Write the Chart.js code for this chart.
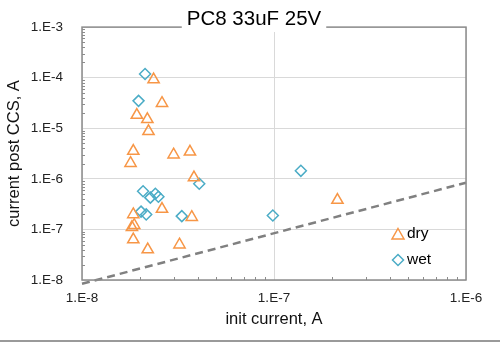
<!DOCTYPE html>
<html>
<head>
<meta charset="utf-8">
<script src="https://cdn.jsdelivr.net/npm/chart.js@4"></script>
<style>
  body { margin: 0; background: #fff; }
  #wrap { width: 500px; height: 342px; }
</style>
</head>
<body>
<div id="wrap"><canvas id="chart" width="500" height="342"></canvas></div>
<script>
// data
const dryX = [2.36e-8, 2.61e-8, 1.93e-8, 2.19e-8, 2.22e-8, 1.85e-8, 3.0e-8, 3.65e-8, 1.79e-8, 3.83e-8,
              2.61e-8, 3.73e-8, 1.85e-8, 1.82e-8, 1.87e-8, 1.85e-8, 2.2e-8, 3.22e-8, 2.14e-7];
const dryY = [9.2e-5, 3.13e-5, 1.82e-5, 1.5e-5, 8.7e-6, 3.54e-6, 3.0e-6, 3.43e-6, 2.04e-6, 1.06e-6,
              2.53e-7, 1.75e-7, 1.98e-7, 1.1e-7, 1.21e-7, 6.3e-8, 4.0e-8, 5.0e-8, 3.8e-7];
const wetX = [2.13e-8, 1.97e-8, 4.08e-8, 2.08e-8, 2.27e-8, 2.41e-8, 2.5e-8, 2.03e-8, 2.16e-8, 3.31e-8,
              1.38e-7, 9.86e-8];
const wetY = [1.18e-4, 3.48e-5, 7.98e-7, 5.7e-7, 4.25e-7, 5.06e-7, 4.43e-7, 2.25e-7, 1.98e-7, 1.83e-7,
              1.44e-6, 1.89e-7];
const refX = [1e-8, 1e-6];
const refY = [8.4e-9, 8.4e-7];

const xTicks = [1e-8, 1e-7, 1e-6];
const xTickLabels = ['1.E-8', '1.E-7', '1.E-6'];
const yTicks = [1e-8, 1e-7, 1e-6, 1e-5, 1e-4, 1e-3];
const yTickLabels = ['1.E-8', '1.E-7', '1.E-6', '1.E-5', '1.E-4', '1.E-3'];

const titleText = 'PC8 33uF 25V';
const seriesNames = ['dry', 'wet'];
const ORANGE = '#F79646';
const TEAL = '#4BACC6';
const FONT = '"Liberation Sans", Arial, sans-serif';

function pts(xs, ys) {
    return xs.map((x, i) => ({x: x, y: ys[i]}));
}

function keepMajor(list) {
    return function(scale) {
        scale.ticks = list.map(v => ({value: v}));
    };
}

function labelFor(values, labels) {
    return function(value) {
        const i = values.findIndex(v => Math.abs(Math.log10(v) - Math.log10(value)) < 1e-6);
        return i >= 0 ? labels[i] : '';
    };
}

// frame, minor ticks, title box and legend
const decor = {
    id: 'decor',
    afterDraw(chart) {
        const ctx = chart.ctx;
        const a = chart.chartArea;
        const xs = chart.scales.x, ys = chart.scales.y;
        ctx.save();

        // minor ticks, inside the plot
        ctx.strokeStyle = '#8c8c8c';
        ctx.lineWidth = 1;
        ctx.beginPath();
        for (let e = -8; e < -6; e++) {
            for (let m = 2; m <= 9; m++) {
                const px = Math.round(xs.getPixelForValue(m * Math.pow(10, e))) + 0.5;
                ctx.moveTo(px, a.bottom);
                ctx.lineTo(px, a.bottom - 3);
            }
        }
        for (let e = -8; e < -3; e++) {
            for (let m = 2; m <= 9; m++) {
                const py = Math.round(ys.getPixelForValue(m * Math.pow(10, e))) + 0.5;
                ctx.moveTo(a.left, py);
                ctx.lineTo(a.left + 3, py);
            }
        }
        ctx.stroke();

        // frame
        ctx.strokeStyle = '#8c8c8c';
        ctx.lineWidth = 1.5;
        ctx.strokeRect(a.left, a.top, a.right - a.left, a.bottom - a.top);

        // title over the top border
        ctx.font = '20.5px ' + FONT;
        const tw = ctx.measureText(titleText).width;
        const cx = 254;
        ctx.fillStyle = '#fff';
        ctx.fillRect(cx - tw / 2 - 5, 6, tw + 10, 26);
        ctx.fillStyle = '#000';
        ctx.textAlign = 'center';
        ctx.textBaseline = 'middle';
        ctx.fillText(titleText, cx, 19);

        // legend
        ctx.lineWidth = 1.5;
        ctx.strokeStyle = ORANGE;
        ctx.beginPath();
        ctx.moveTo(398, 228.5);
        ctx.lineTo(404, 239);
        ctx.lineTo(392, 239);
        ctx.closePath();
        ctx.stroke();
        ctx.strokeStyle = TEAL;
        ctx.beginPath();
        ctx.moveTo(398, 254.5);
        ctx.lineTo(403.5, 260);
        ctx.lineTo(398, 265.5);
        ctx.lineTo(392.5, 260);
        ctx.closePath();
        ctx.stroke();
        ctx.font = '15.5px ' + FONT;
        ctx.fillStyle = '#000';
        ctx.textAlign = 'left';
        ctx.fillText(seriesNames[0], 407, 234);
        ctx.fillText(seriesNames[1], 407, 260);

        // outer bottom edge
        ctx.fillStyle = '#9a9a9a';
        ctx.fillRect(0, 340, 500, 2);
        ctx.restore();
    }
};

new Chart(document.getElementById('chart'), {
    type: 'scatter',
    data: {
        datasets: [
            {
                label: seriesNames[0],
                data: pts(dryX, dryY),
                pointStyle: 'triangle',
                pointRadius: 6.5,
                borderColor: ORANGE,
                backgroundColor: 'rgba(0,0,0,0)',
                borderWidth: 1.5
            },
            {
                label: seriesNames[1],
                data: pts(wetX, wetY),
                pointStyle: 'rectRot',
                pointRadius: 5.5,
                borderColor: TEAL,
                backgroundColor: 'rgba(0,0,0,0)',
                borderWidth: 1.5
            },
            {
                type: 'line',
                label: 'ref',
                data: pts(refX, refY),
                borderColor: '#808080',
                borderWidth: 2.5,
                borderDash: [8, 5],
                pointRadius: 0,
                clip: false
            }
        ]
    },
    options: {
        responsive: false,
        animation: false,
        layout: { padding: { top: 19, right: 34, left: 0, bottom: 0 } },
        plugins: {
            legend: { display: false },
            tooltip: { enabled: false }
        },
        scales: {
            x: {
                type: 'logarithmic',
                min: 1e-8,
                max: 1e-6,
                afterBuildTicks: keepMajor(xTicks),
                afterFit: s => { s.height = 62; },
                border: { display: false },
                grid: { color: '#d9d9d9', lineWidth: 1, drawTicks: false },
                ticks: {
                    padding: 10,
                    color: '#222',
                    font: { family: FONT, size: 13.5 },
                    maxRotation: 0,
                    autoSkip: false,
                    callback: labelFor(xTicks, xTickLabels)
                },
                title: {
                    display: true,
                    text: 'init current, A',
                    color: '#111',
                    font: { family: FONT, size: 16.5 },
                    padding: { top: 0, bottom: 13 }
                }
            },
            y: {
                type: 'logarithmic',
                min: 1e-8,
                max: 1e-3,
                afterBuildTicks: keepMajor(yTicks),
                afterFit: s => { s.width = 82; },
                border: { display: false },
                grid: { color: '#d9d9d9', lineWidth: 1, drawTicks: false },
                ticks: {
                    padding: 19,
                    color: '#222',
                    font: { family: FONT, size: 13.5 },
                    autoSkip: false,
                    callback: labelFor(yTicks, yTickLabels)
                },
                title: {
                    display: true,
                    text: 'current post CCS, A',
                    color: '#111',
                    font: { family: FONT, size: 16.5 },
                    padding: { top: 5, bottom: 0 }
                }
            }
        }
    },
    plugins: [decor]
});
</script>
</body>
</html>
